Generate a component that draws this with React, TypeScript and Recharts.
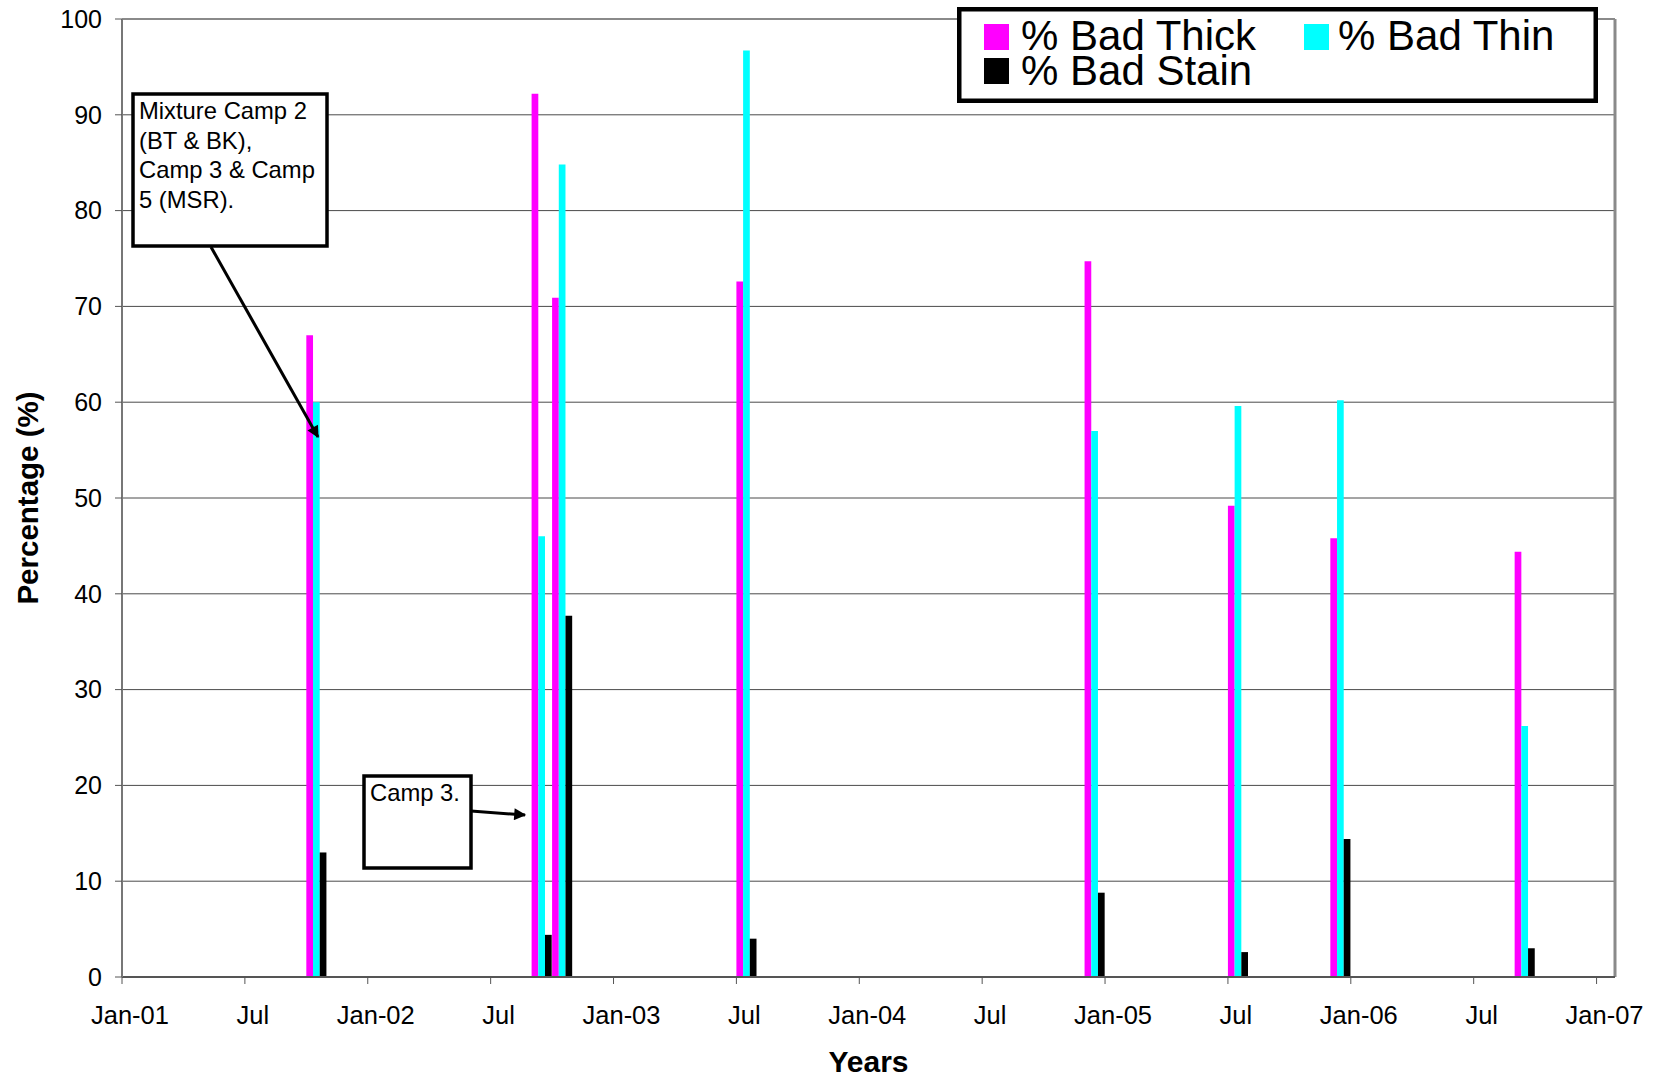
import React from 'react';
import { BarChart, Bar, XAxis, YAxis, CartesianGrid, Legend, ReferenceLine } from 'recharts';

// ---- data ----
const sampleDates = ['2001-10', '2002-09', '2002-10', '2003-07', '2004-12', '2005-07', '2005-12', '2006-09'];
const badThick = [67.0, 92.2, 70.9, 72.6, 74.7, 49.2, 45.8, 44.4];
const badThin = [60.0, 46.0, 84.8, 96.7, 57.0, 59.6, 60.2, 26.2];
const badStain = [13.0, 4.4, 37.7, 4.0, 8.8, 2.6, 14.4, 3.0];

const xTickMonths = [0, 6, 12, 18, 24, 30, 36, 42, 48, 54, 60, 66, 72];
const xTickLabels = ['Jan-01', 'Jul', 'Jan-02', 'Jul', 'Jan-03', 'Jul', 'Jan-04', 'Jul', 'Jan-05', 'Jul', 'Jan-06', 'Jul', 'Jan-07'];
const yTicks = [0, 10, 20, 30, 40, 50, 60, 70, 80, 90, 100];

const seriesNames = ['% Bad Thick', '% Bad Thin', '% Bad Stain'];
const seriesColors = ['#FF00FF', '#00FFFF', '#000000'];

// months since Jan 2001, centred in the month slot
const monthSlot = (d: string) => {
  const [y, m] = d.split('-').map(Number);
  return (y - 2001) * 12 + (m - 1) + 0.5;
};

const rows = sampleDates.map((d, i) => ({
  x: monthSlot(d),
  thick: badThick[i],
  thin: badThin[i],
  stain: badStain[i],
}));

const FONT = '"Liberation Sans", Arial, Helvetica, sans-serif';

const LegendBox = () => (
  <svg width={641} height={96} style={{ display: 'block' }}>
    <rect x={2.25} y={2.25} width={636.5} height={91.5} fill="#fff" stroke="#000" strokeWidth={4.5} />
    <rect x={27} y={17} width={25} height={26} fill={seriesColors[0]} />
    <text x={64} y={43} fontSize={42} fontFamily={FONT} fill="#000">{seriesNames[0]}</text>
    <rect x={347} y={17} width={25} height={26} fill={seriesColors[1]} />
    <text x={381} y={43} fontSize={42} fontFamily={FONT} fill="#000">{seriesNames[1]}</text>
    <rect x={27} y={51} width={25} height={26} fill={seriesColors[2]} />
    <text x={64} y={78} fontSize={42} fontFamily={FONT} fill="#000">{seriesNames[2]}</text>
  </svg>
);

const Annotations = () => (
  <svg
    width={1655}
    height={1080}
    style={{ position: 'absolute', left: 0, top: 0, pointerEvents: 'none' }}
  >
    <defs>
      <marker id="arrowHead" viewBox="0 0 10 10" refX="9" refY="5" markerWidth="5" markerHeight="4" orient="auto" markerUnits="strokeWidth">
        <path d="M0,0 L10,5 L0,10 z" fill="#000" />
      </marker>
    </defs>
    <rect x={133} y={94} width={194} height={152} fill="#fff" stroke="#000" strokeWidth={3.5} />
    <text fontSize={23.8} fontFamily={FONT} fill="#000">
      <tspan x={139} y={119}>Mixture Camp 2</tspan>
      <tspan x={139} y={149}>(BT &amp; BK),</tspan>
      <tspan x={139} y={178}>Camp 3 &amp; Camp</tspan>
      <tspan x={139} y={208}>5 (MSR).</tspan>
    </text>
    <line x1={211} y1={247} x2={318} y2={437} stroke="#000" strokeWidth={3} markerEnd="url(#arrowHead)" />
    <rect x={364} y={776} width={107} height={92} fill="#fff" stroke="#000" strokeWidth={3.5} />
    <text x={370} y={801} fontSize={23.8} fontFamily={FONT} fill="#000">Camp 3.</text>
    <line x1={471} y1={811} x2={525} y2={815} stroke="#000" strokeWidth={3} markerEnd="url(#arrowHead)" />
  </svg>
);

export default function App() {
  return (
    <div style={{ position: 'absolute', left: 0, top: 0, width: 1655, height: 1080, background: '#fff', fontFamily: FONT }}>
      <BarChart
        width={1655}
        height={1080}
        data={rows}
        margin={{ top: 19, right: 40, bottom: 0, left: 0 }}
        barGap={0}
      >
        <CartesianGrid horizontal vertical={false} stroke="#4a4a4a" strokeWidth={1} />
        <XAxis
          dataKey="x"
          type="number"
          domain={[0, 72.9]}
          ticks={xTickMonths}
          interval={0}
          allowDataOverflow
          height={103}
          tickSize={7}
          tickMargin={22}
          tickFormatter={(v: number) => xTickLabels[xTickMonths.indexOf(v)] ?? ''}
          tick={{ fontSize: 25.5, fill: '#000', fontFamily: FONT, dx: 8 }}
          axisLine={{ stroke: '#555', strokeWidth: 2 }}
          tickLine={{ stroke: '#555' }}
          label={{ value: 'Years', position: 'insideBottom', offset: 8, fontSize: 30, fontWeight: 'bold', fill: '#000', fontFamily: FONT }}
        />
        <YAxis
          type="number"
          domain={[0, 100]}
          ticks={yTicks}
          interval={0}
          width={122}
          tickSize={7}
          tickMargin={13}
          tick={{ fontSize: 25, fill: '#000', fontFamily: FONT }}
          axisLine={{ stroke: '#777', strokeWidth: 2 }}
          tickLine={{ stroke: '#555' }}
          label={{ value: 'Percentage (%)', angle: -90, position: 'insideLeft', offset: 28, fontSize: 29.5, fontWeight: 'bold', fill: '#000', fontFamily: FONT, style: { textAnchor: 'middle' } }}
        />
        <ReferenceLine y={100} stroke="#8a8a8a" strokeWidth={2} />
        <ReferenceLine x={72.9} stroke="#8a8a8a" strokeWidth={3} ifOverflow="extendDomain" />
        <Bar dataKey="thick" name={seriesNames[0]} fill={seriesColors[0]} barSize={6.7} isAnimationActive={false} />
        <Bar dataKey="thin" name={seriesNames[1]} fill={seriesColors[1]} barSize={6.7} isAnimationActive={false} />
        <Bar dataKey="stain" name={seriesNames[2]} fill={seriesColors[2]} barSize={6.7} isAnimationActive={false} />
        <Legend
          layout="horizontal"
          verticalAlign="middle"
          align="center"
          wrapperStyle={{ left: 957, top: 7, width: 641, height: 96 }}
          content={() => <LegendBox />}
        />
      </BarChart>
      <Annotations />
    </div>
  );
}
